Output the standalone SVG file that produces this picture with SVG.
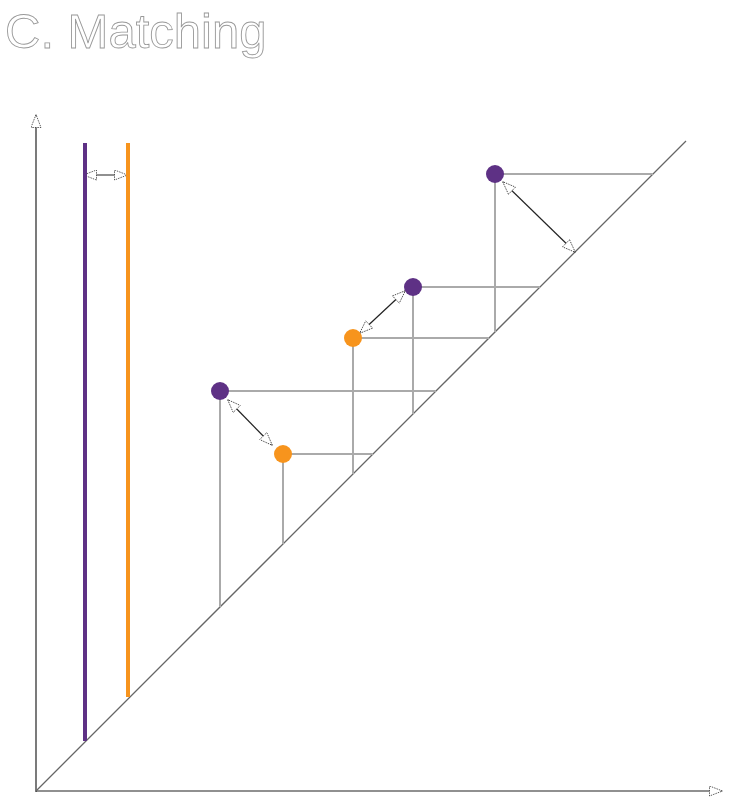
<svg xmlns="http://www.w3.org/2000/svg" width="733" height="802" viewBox="0 0 733 802">
<style>
.title{font-family:"Liberation Sans",Arial,sans-serif;font-size:49px;fill:#fff;stroke:#999;stroke-width:0.9}
.grid{stroke:#aaa;stroke-width:2;fill:none}
.axis{stroke:#222;stroke-width:1.2;fill:none}
.diag{stroke:#666;stroke-width:1.3;fill:none}
.arr{stroke:#222;stroke-width:1.2;fill:none;marker-start:url(#ah);marker-end:url(#ah)}
.pur{fill:#5e3185}
.org{fill:#f7941d}
</style>
<defs>
<marker id="ah" viewBox="0 0 14 11" refX="13" refY="5.5" markerWidth="14" markerHeight="11" markerUnits="userSpaceOnUse" orient="auto-start-reverse">
<path d="M0.5,0.5 L13.5,5.5 L0.5,10.5 Z" fill="#fff" stroke="#333" stroke-width="0.8" stroke-dasharray="1.5,1"/>
</marker>
<marker id="axh" viewBox="0 0 14 11" refX="13" refY="5.5" markerWidth="14" markerHeight="11" markerUnits="userSpaceOnUse" orient="auto">
<path d="M0.5,0.5 L13.5,5.5 L0.5,10.5 Z" fill="#fff" stroke="#333" stroke-width="0.8" stroke-dasharray="1.5,1"/>
</marker>
</defs>
<text class="title" x="5" y="48">C. Matching</text>
<g id="connectors">
<line class="axis" x1="36" y1="792" x2="36" y2="115" marker-end="url(#axh)"/>
<line class="axis" x1="36" y1="791" x2="722" y2="791" marker-end="url(#axh)"/>
<line class="diag" x1="36" y1="791" x2="686" y2="141"/>
<line class="grid" x1="495" y1="174" x2="653" y2="174"/>
<line class="grid" x1="495" y1="174" x2="495" y2="332"/>
<line class="grid" x1="413" y1="287" x2="540" y2="287"/>
<line class="grid" x1="413" y1="287" x2="413" y2="414"/>
<line class="grid" x1="353" y1="338" x2="489" y2="338"/>
<line class="grid" x1="353" y1="338" x2="353" y2="474"/>
<line class="grid" x1="220" y1="391" x2="436" y2="391"/>
<line class="grid" x1="220" y1="391" x2="220" y2="607"/>
<line class="grid" x1="283" y1="454" x2="373" y2="454"/>
<line class="grid" x1="283" y1="454" x2="283" y2="544"/>
<line class="arr" x1="84" y1="175" x2="127" y2="175"/>
<line class="arr" x1="503" y1="182" x2="575" y2="252"/>
<line class="arr" x1="405" y1="291" x2="360" y2="333"/>
<line class="arr" x1="228" y1="400" x2="272" y2="445"/>
</g>
<g id="bar-purple"><rect class="pur" x="83" y="143" width="4" height="598"/></g>
<g id="bar-orange"><rect class="org" x="126" y="143" width="4" height="554"/></g>
<g id="p1"><circle class="pur" cx="495" cy="174" r="9"/></g>
<g id="p2"><circle class="pur" cx="413" cy="287" r="9"/></g>
<g id="p3"><circle class="org" cx="353" cy="338" r="9"/></g>
<g id="p4"><circle class="pur" cx="220" cy="391" r="9"/></g>
<g id="p5"><circle class="org" cx="283" cy="454" r="9"/></g>
</svg>
